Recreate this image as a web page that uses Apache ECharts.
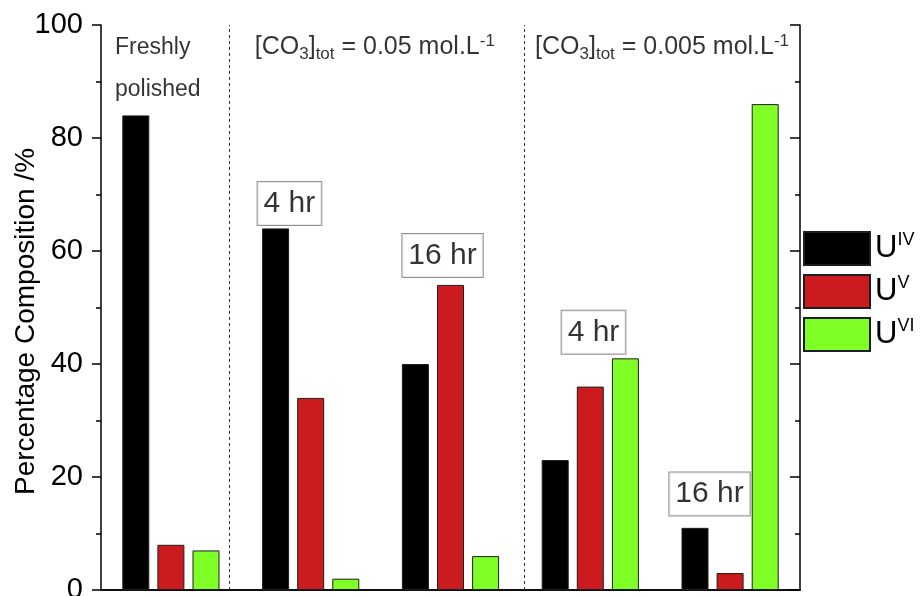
<!DOCTYPE html>
<html>
<head>
<meta charset="utf-8">
<script src="https://cdn.jsdelivr.net/npm/echarts@6/dist/echarts.min.js"></script>
<style>
  html, body { margin: 0; padding: 0; background: #fff; }
  #chart { width: 920px; height: 596px; }
</style>
</head>
<body>
<div id="chart"></div>
<script>
// Surface composition of uranium oxidation states (%), per exposure condition
const categories = ['Freshly polished', '0.05 mol/L, 4 hr', '0.05 mol/L, 16 hr', '0.005 mol/L, 4 hr', '0.005 mol/L, 16 hr'];
const seriesNames = ['UIV', 'UV', 'UVI'];
const oxidationStates = ['IV', 'V', 'VI'];
const uIV = [84, 64, 40, 23, 11];
const uV = [8, 34, 54, 36, 3];
const uVI = [7, 2, 6, 41, 86];
const yTicks = [0, 20, 40, 60, 80, 100];

// Panel headings and time labels, anchored in data space
// (x in category widths from the left edge, y in %)
const concentrations = ['0.05', '0.005'];
const headerAnchors = [[0.10, 92.3], [1.10, 96.0], [3.105, 96.0]];
const timeTexts = ['4 hr', '16 hr', '4 hr', '16 hr'];
const timeAnchors = [[1.348, 68.4], [2.443, 59.2], [3.523, 45.6], [4.353, 17.0]];
const separators = [0.916, 3.026];

const FONT = '"Liberation Sans", Arial, Helvetica, sans-serif';
const colors = ['#000000', '#cc1b1e', '#80ff26'];

const headerTexts = ['{h|Freshly}\n{h|polished}'].concat(
  concentrations.map(c => '{t|[CO}{s|3}{t|]}{s|tot}{t| = ' + c + ' mol.L}{p|-1}')
);

const chart = echarts.init(document.getElementById('chart'), null, { renderer: 'canvas' });

const axisLineStyle = { color: '#000', width: 1.5 };

chart.setOption({
  animation: false,
  backgroundColor: '#fff',
  textStyle: { fontFamily: FONT, color: '#000' },
  grid: { left: 101, right: 120, top: 25, bottom: 6, containLabel: false, outerBoundsMode: 'none' },
  legend: {
    orient: 'vertical',
    left: 803,
    top: 231,
    padding: 0,
    itemWidth: 66,
    itemHeight: 33,
    itemGap: 8,
    icon: 'rect',
    selectedMode: false,
    data: seriesNames,
    formatter: name => '{u|U}{sup|' + oxidationStates[seriesNames.indexOf(name)] + '}',
    textStyle: {
      fontFamily: FONT,
      color: '#000',
      rich: {
        u: { fontSize: 31, lineHeight: 34, color: '#000', fontFamily: FONT },
        sup: { fontSize: 18, lineHeight: 14, verticalAlign: 'top', color: '#000', fontFamily: FONT }
      }
    }
  },
  xAxis: [
    {
      type: 'category',
      data: categories,
      position: 'bottom',
      axisLine: { show: true, lineStyle: axisLineStyle },
      axisTick: { show: false },
      axisLabel: { show: false },
      splitLine: { show: false }
    },
    {
      type: 'value',
      min: 0,
      max: 5,
      position: 'top',
      axisLine: { show: true, lineStyle: axisLineStyle },
      axisTick: { show: false },
      axisLabel: { show: false },
      splitLine: { show: false }
    }
  ],
  yAxis: [
    {
      type: 'value',
      min: yTicks[0],
      max: yTicks[yTicks.length - 1],
      interval: yTicks[1] - yTicks[0],
      position: 'left',
      name: 'Percentage Composition /%',
      nameLocation: 'middle',
      nameRotate: 90,
      nameGap: 61,
      nameMoveOverlap: false,
      nameTextStyle: { fontSize: 28, color: '#000', fontFamily: FONT, padding: [0, 28, 0, 0] },
      axisLine: { show: true, lineStyle: axisLineStyle },
      axisTick: { show: true, inside: false, length: 9, lineStyle: axisLineStyle },
      minorTick: { show: true, splitNumber: 2, length: 5, lineStyle: axisLineStyle },
      axisLabel: { fontSize: 29, color: '#000', margin: 18, fontFamily: FONT },
      splitLine: { show: false }
    },
    {
      type: 'value',
      min: yTicks[0],
      max: yTicks[yTicks.length - 1],
      interval: yTicks[1] - yTicks[0],
      position: 'right',
      axisLine: { show: true, lineStyle: axisLineStyle },
      axisTick: { show: true, inside: true, length: 10, lineStyle: axisLineStyle },
      minorTick: { show: true, splitNumber: 2, length: 5, lineStyle: axisLineStyle },
      axisLabel: { show: false },
      splitLine: { show: false }
    }
  ],
  series: [
    ...[uIV, uV, uVI].map((vals, i) => ({
      name: seriesNames[i],
      type: 'bar',
      xAxisIndex: 0,
      yAxisIndex: 0,
      data: vals,
      barWidth: 27,
      barGap: '30%',
      silent: true,
      itemStyle: { color: colors[i], borderColor: '#1e1e1e', borderWidth: 1 }
    })),
    {
      name: 'headings',
      type: 'scatter',
      xAxisIndex: 1,
      yAxisIndex: 0,
      symbolSize: 1,
      silent: true,
      z: 5,
      itemStyle: { color: 'rgba(0,0,0,0)' },
      data: headerAnchors.map((p, i) => ({ name: headerTexts[i], value: p })),
      label: {
        show: true,
        position: 'inside',
        align: 'left',
        verticalAlign: 'middle',
        formatter: p => p.name,
        rich: {
          h: { fontSize: 23, lineHeight: 42, color: '#000', fontFamily: FONT },
          t: { fontSize: 25, lineHeight: 30, color: '#000', fontFamily: FONT },
          s: { fontSize: 17, lineHeight: 12, verticalAlign: 'bottom', color: '#000', fontFamily: FONT },
          p: { fontSize: 17, lineHeight: 12, verticalAlign: 'top', color: '#000', fontFamily: FONT }
        }
      },
      markLine: {
        silent: true,
        symbol: ['none', 'none'],
        label: { show: false },
        lineStyle: { color: '#333', width: 1, type: [3, 3] },
        data: separators.map(v => ({ xAxis: v }))
      }
    },
    {
      name: 'times',
      type: 'scatter',
      xAxisIndex: 1,
      yAxisIndex: 0,
      symbolSize: 1,
      silent: true,
      z: 5,
      itemStyle: { color: 'rgba(0,0,0,0)' },
      data: timeAnchors.map((p, i) => ({ name: timeTexts[i], value: p })),
      label: {
        show: true,
        position: 'inside',
        formatter: p => p.name,
        fontSize: 30,
        lineHeight: 34,
        color: '#000',
        fontFamily: FONT,
        backgroundColor: '#fff',
        borderColor: '#777',
        borderWidth: 1,
        padding: [5, 6, 4, 6]
      }
    }
  ]
});
</script>
</body>
</html>
